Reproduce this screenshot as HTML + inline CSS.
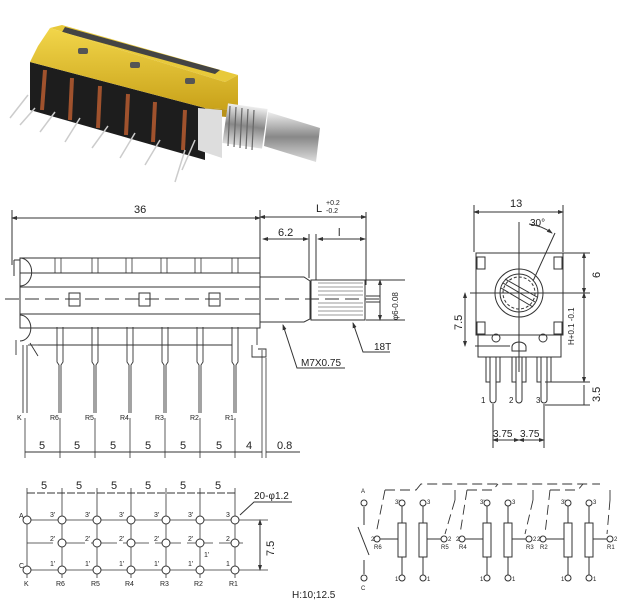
<!DOCTYPE html>
<html><head><meta charset="utf-8"><style>
html,body{margin:0;padding:0;background:#fff;}
svg{display:block;}
text{font-family:"Liberation Sans",sans-serif;fill:#222;}
</style></head><body>
<svg width="620" height="600" viewBox="0 0 620 600" xmlns="http://www.w3.org/2000/svg">
<defs>
<marker id="a" markerWidth="6" markerHeight="6" refX="5" refY="3" orient="auto-start-reverse"><path d="M0,1 L6,3 L0,5z" fill="#333"/></marker>
<linearGradient id="y" x1="0" y1="0" x2="0" y2="1"><stop offset="0" stop-color="#f2d64a"/><stop offset="1" stop-color="#c9a21a"/></linearGradient>
<linearGradient id="s" x1="0" y1="0" x2="0" y2="1"><stop offset="0" stop-color="#eee"/><stop offset="0.5" stop-color="#888"/><stop offset="1" stop-color="#ddd"/></linearGradient>
</defs>
<!-- PHOTO -->
<g>
<polygon points="30,62 205,108 205,160 30,110" fill="#1d1d1d"/>
<polygon points="50,28 62,25 238,75 225,82" fill="#e8c93a"/>
<polygon points="65,27 220,70 215,74 62,32" fill="#444"/>
<polygon points="38,46 50,28 225,82 238,75 238,110 205,108 30,62" fill="url(#y)"/>
<polygon points="205,108 238,110 237,118 205,115" fill="#b8921a"/>
<rect x="78" y="48" width="10" height="6" rx="2" fill="#555"/>
<rect x="130" y="62" width="10" height="6" rx="2" fill="#555"/>
<rect x="185" y="78" width="10" height="6" rx="2" fill="#555"/>
<polygon points="198,108 222,110 222,158 198,150" fill="#ddd"/>
<rect x="225" y="106" width="40" height="40" fill="url(#s)" transform="rotate(8 245 126)"/>
<g stroke="#666" stroke-width="1.2">
<line x1="230" y1="106" x2="228" y2="146"/><line x1="236" y1="107" x2="234" y2="147"/><line x1="242" y1="108" x2="240" y2="148"/><line x1="248" y1="109" x2="246" y2="149"/><line x1="254" y1="110" x2="252" y2="150"/>
</g>
<polygon points="268,112 320,128 316,162 264,146" fill="url(#s)"/>
<g stroke="#a0522d" stroke-width="4" fill="none">
<path d="M45,70 L42,110"/><path d="M72,78 L70,120"/><path d="M100,86 L98,128"/><path d="M128,94 L126,135"/><path d="M155,102 L153,142"/><path d="M185,110 L183,150"/>
</g>
<g stroke="#ccc" stroke-width="1.5">
<line x1="28" y1="95" x2="10" y2="118"/><line x1="35" y1="108" x2="20" y2="125"/><line x1="55" y1="112" x2="40" y2="132"/><line x1="80" y1="118" x2="65" y2="142"/><line x1="108" y1="126" x2="92" y2="148"/><line x1="135" y1="133" x2="120" y2="158"/><line x1="160" y1="140" x2="145" y2="165"/><line x1="185" y1="150" x2="175" y2="182"/><line x1="195" y1="140" x2="182" y2="170"/>
</g>
</g>

<!-- SIDE VIEW -->
<g stroke="#333" stroke-width="1" fill="none">
<line x1="12" y1="210" x2="12" y2="265"/><line x1="260" y1="210" x2="260" y2="262"/><line x1="366" y1="212" x2="366" y2="285"/>
<line x1="12" y1="218" x2="260" y2="218" marker-start="url(#a)" marker-end="url(#a)"/>
<line x1="260" y1="217" x2="366" y2="217" marker-start="url(#a)" marker-end="url(#a)"/>
<line x1="263" y1="239" x2="308" y2="239" marker-start="url(#a)" marker-end="url(#a)"/>
<line x1="318" y1="239" x2="365" y2="239" marker-start="url(#a)" marker-end="url(#a)"/>
<line x1="309" y1="234" x2="309" y2="278"/><line x1="316" y1="234" x2="316" y2="280"/>
<rect x="20" y="258" width="240" height="70"/>
<line x1="20" y1="273" x2="260" y2="273"/><line x1="20" y1="287" x2="260" y2="287"/><line x1="20" y1="314" x2="260" y2="314"/>
<path d="M20,258 a10,12 0 0 1 0,28"/><path d="M20,315 a10,12 0 0 1 0,26" />
<line x1="14" y1="260" x2="20" y2="260"/><line x1="14" y1="260" x2="14" y2="276"/>
<g stroke-width="0.8"><line x1="55" y1="258" x2="55" y2="273"/><line x1="61" y1="258" x2="61" y2="273"/><line x1="92" y1="258" x2="92" y2="273"/><line x1="98" y1="258" x2="98" y2="273"/><line x1="126" y1="258" x2="126" y2="273"/><line x1="132" y1="258" x2="132" y2="273"/><line x1="161" y1="258" x2="161" y2="273"/><line x1="167" y1="258" x2="167" y2="273"/><line x1="195" y1="258" x2="195" y2="273"/><line x1="201" y1="258" x2="201" y2="273"/><line x1="232" y1="258" x2="232" y2="273"/><line x1="238" y1="258" x2="238" y2="273"/></g>
<line x1="5" y1="299" x2="385" y2="299" stroke-dasharray="14,6"/>
<rect x="69" y="293" width="11" height="13"/><rect x="139" y="293" width="11" height="13"/><rect x="209" y="293" width="11" height="13"/>
<path d="M260,277 L304,277 L310,281 L310,319 L304,322 L260,322"/>
<rect x="311" y="280" width="54" height="40"/>
<g stroke-width="0.6"><line x1="318" y1="283" x2="363" y2="283"/><line x1="318" y1="287" x2="363" y2="287"/><line x1="318" y1="291" x2="363" y2="291"/><line x1="318" y1="295" x2="363" y2="295"/><line x1="318" y1="303" x2="363" y2="303"/><line x1="318" y1="307" x2="363" y2="307"/><line x1="318" y1="311" x2="363" y2="311"/><line x1="318" y1="315" x2="363" y2="315"/></g>
<line x1="366" y1="280" x2="405" y2="280"/><line x1="366" y1="320" x2="405" y2="320"/>
<line x1="380" y1="280" x2="380" y2="320" marker-start="url(#a)" marker-end="url(#a)"/>
<line x1="366" y1="296" x2="380" y2="296"/><line x1="366" y1="302" x2="380" y2="302"/>
<path d="M283,325 L297,368 L345,368" marker-start="url(#a)"/>
<path d="M353,323 L363,352 L390,352" marker-start="url(#a)"/>
<!-- pins -->
<g stroke-width="0.9">
<path d="M57,327 V362 L59,365 V413 M63,327 V362 L61,365 V413"/>
<path d="M92,327 V362 L94,365 V413 M98,327 V362 L96,365 V413"/>
<path d="M127,327 V362 L129,365 V413 M133,327 V362 L131,365 V413"/>
<path d="M162,327 V362 L164,365 V413 M168,327 V362 L166,365 V413"/>
<path d="M197,327 V362 L199,365 V413 M203,327 V362 L201,365 V413"/>
<path d="M232,327 V362 L234,365 V413 M238,327 V362 L236,365 V413"/>
<path d="M23,345 V413 M27,345 V413"/>
<line x1="16" y1="340" x2="16" y2="355"/><line x1="28" y1="345" x2="42" y2="345"/>
<line x1="30" y1="343" x2="38" y2="356"/>
<line x1="38" y1="345" x2="232" y2="345"/>
<path d="M252,345 V357 H266 V349 H258"/><line x1="257" y1="328" x2="257" y2="345"/>
</g>
<g stroke-width="0.8">
<line x1="25" y1="418" x2="25" y2="458"/><line x1="60" y1="418" x2="60" y2="458"/><line x1="95" y1="418" x2="95" y2="458"/><line x1="130" y1="418" x2="130" y2="458"/><line x1="165" y1="418" x2="165" y2="458"/><line x1="200" y1="418" x2="200" y2="458"/><line x1="235" y1="418" x2="235" y2="458"/><line x1="262" y1="350" x2="262" y2="458"/><line x1="266" y1="358" x2="266" y2="458"/>
</g>
<line x1="25" y1="452" x2="262" y2="452"/>
<line x1="266" y1="452" x2="300" y2="452"/>
</g>
<g font-size="11">
<text x="134" y="213">36</text>
<text x="316" y="212">L</text><text x="326" y="205" font-size="7">+0.2</text><text x="326" y="213" font-size="7">-0.2</text>
<text x="278" y="236">6.2</text><text x="338" y="236">l</text>
<text x="301" y="366" font-size="10">M7X0.75</text>
<text x="374" y="350" font-size="10">18T</text>
<text transform="translate(398,320) rotate(-90)" font-size="8">φ6-0.08</text>
<text x="39" y="449">5</text><text x="74" y="449">5</text><text x="110" y="449">5</text><text x="145" y="449">5</text><text x="180" y="449">5</text><text x="216" y="449">5</text><text x="246" y="449">4</text><text x="277" y="449">0.8</text>
</g>
<g font-size="7"><text x="17" y="420">K</text><text x="50" y="420">R6</text><text x="85" y="420">R5</text><text x="120" y="420">R4</text><text x="155" y="420">R3</text><text x="190" y="420">R2</text><text x="225" y="420">R1</text></g>

<!-- FRONT VIEW -->
<g stroke="#333" stroke-width="1" fill="none">
<line x1="474" y1="205" x2="474" y2="252"/><line x1="563" y1="205" x2="563" y2="252"/>
<line x1="474" y1="212" x2="563" y2="212" marker-start="url(#a)" marker-end="url(#a)"/>
<rect x="476" y="253" width="87" height="82"/>
<path d="M478,335 V357 H561 V335"/>
<rect x="477" y="257" width="8" height="12"/><rect x="554" y="257" width="8" height="12"/>
<rect x="477" y="322" width="8" height="12"/><rect x="554" y="322" width="8" height="12"/>
<circle cx="519" cy="293" r="24"/><circle cx="519" cy="293" r="19"/><circle cx="519" cy="293" r="16" stroke-dasharray="3,2"/>
<line x1="503" y1="283" x2="535" y2="302"/><line x1="501" y1="288" x2="533" y2="307"/><line x1="505" y1="279" x2="537" y2="297"/>
<line x1="519" y1="222" x2="519" y2="372"/>
<line x1="533" y1="281" x2="555" y2="233"/>
<path d="M529,224 A50,50 0 0 1 552,233" marker-end="url(#a)"/>
<circle cx="496" cy="338" r="4"/><circle cx="543" cy="338" r="4"/><path d="M512,347 a7,5 0 0 1 14,0 v4 h-14z"/>
<line x1="470" y1="293" x2="590" y2="293"/><line x1="563" y1="253" x2="590" y2="253"/><line x1="475" y1="346" x2="510" y2="346"/>
<line x1="584" y1="253" x2="584" y2="293" marker-start="url(#a)" marker-end="url(#a)"/>
<line x1="584" y1="293" x2="584" y2="382" marker-start="url(#a)" marker-end="url(#a)"/>
<line x1="465" y1="293" x2="465" y2="346" marker-start="url(#a)" marker-end="url(#a)"/>
<line x1="545" y1="382" x2="590" y2="382"/><line x1="545" y1="405" x2="590" y2="405"/>
<line x1="584" y1="385" x2="584" y2="405"/>
<path d="M490,357 V400 a3,3 0 0 0 6,0 V357"/><path d="M486,357 V382 H490 M500,357 V382 H496"/>
<path d="M516,357 V400 a3,3 0 0 0 6,0 V357"/><path d="M512,357 V382 H516 M526,357 V382 H522"/>
<path d="M541,357 V400 a3,3 0 0 0 6,0 V357"/><path d="M537,357 V382 H541 M551,357 V382 H547"/>
<line x1="493" y1="404" x2="493" y2="448"/><line x1="544" y1="404" x2="544" y2="448"/>
<line x1="493" y1="440" x2="519" y2="440" marker-start="url(#a)" marker-end="url(#a)"/>
<line x1="519" y1="440" x2="544" y2="440" marker-start="url(#a)" marker-end="url(#a)"/>
</g>
<g font-size="11">
<text x="510" y="207">13</text><text x="530" y="226" font-size="10">30°</text>
<text transform="translate(600,278) rotate(-90)">6</text>
<text transform="translate(462,330) rotate(-90)">7.5</text>
<text transform="translate(600,402) rotate(-90)">3.5</text>
<text transform="translate(574,345) rotate(-90)" font-size="8">H+0.1 -0.1</text>
<text x="493" y="437" font-size="10">3.75</text><text x="520" y="437" font-size="10">3.75</text>
<text x="481" y="403" font-size="8">1</text><text x="509" y="403" font-size="8">2</text><text x="536" y="403" font-size="8">3</text>
</g>

<!-- GRID -->
<g stroke="#333" stroke-width="1" fill="none">
<g stroke-width="0.8">
<line x1="27" y1="488" x2="27" y2="578"/><line x1="62" y1="488" x2="62" y2="578"/><line x1="97" y1="488" x2="97" y2="578"/><line x1="131" y1="488" x2="131" y2="578"/><line x1="166" y1="488" x2="166" y2="578"/><line x1="200" y1="488" x2="200" y2="578"/><line x1="235" y1="488" x2="235" y2="578"/>
<line x1="27" y1="520" x2="268" y2="520"/><line x1="27" y1="570" x2="268" y2="570"/>
<line x1="27" y1="543" x2="243" y2="543" stroke-dasharray="26,6"/>
</g>
<line x1="27" y1="493" x2="235" y2="493" stroke-dasharray="8,2"/>
<line x1="260" y1="520" x2="260" y2="570" marker-start="url(#a)" marker-end="url(#a)"/>
<path d="M240,515 L254,502 L292,502"/>
</g>
<g stroke="#333" stroke-width="1" fill="#fff">
<g id="cr"><circle cx="27" cy="520" r="4"/><circle cx="62" cy="520" r="4"/><circle cx="97" cy="520" r="4"/><circle cx="131" cy="520" r="4"/><circle cx="166" cy="520" r="4"/><circle cx="200" cy="520" r="4"/><circle cx="235" cy="520" r="4"/></g>
<circle cx="62" cy="543" r="4"/><circle cx="97" cy="543" r="4"/><circle cx="131" cy="543" r="4"/><circle cx="166" cy="543" r="4"/><circle cx="200" cy="543" r="4"/><circle cx="235" cy="543" r="4"/>
<circle cx="27" cy="570" r="4"/><circle cx="62" cy="570" r="4"/><circle cx="97" cy="570" r="4"/><circle cx="131" cy="570" r="4"/><circle cx="166" cy="570" r="4"/><circle cx="200" cy="570" r="4"/><circle cx="235" cy="570" r="4"/>
</g>
<g font-size="11"><text x="41" y="489">5</text><text x="76" y="489">5</text><text x="111" y="489">5</text><text x="145" y="489">5</text><text x="180" y="489">5</text><text x="215" y="489">5</text>
<text x="254" y="499" font-size="10">20-φ1.2</text>
<text transform="translate(274,556) rotate(-90)">7.5</text>
<text x="292" y="598" font-size="10">H:10;12.5</text></g>
<g font-size="7"><text x="19" y="518">A</text><text x="19" y="568">C</text><text x="50" y="517">3'</text><text x="85" y="517">3'</text><text x="119" y="517">3'</text><text x="154" y="517">3'</text><text x="188" y="517">3'</text><text x="226" y="517">3</text>
<text x="50" y="541">2'</text><text x="85" y="541">2'</text><text x="119" y="541">2'</text><text x="154" y="541">2'</text><text x="188" y="541">2'</text><text x="226" y="541">2</text>
<text x="50" y="566">1'</text><text x="85" y="566">1'</text><text x="119" y="566">1'</text><text x="154" y="566">1'</text><text x="188" y="566">1'</text><text x="226" y="566">1</text><text x="204" y="557">1'</text>
<text x="24" y="586">K</text><text x="56" y="586">R6</text><text x="91" y="586">R5</text><text x="125" y="586">R4</text><text x="160" y="586">R3</text><text x="194" y="586">R2</text><text x="229" y="586">R1</text></g>

<!-- SCHEMATIC -->
<g stroke="#333" stroke-width="1" fill="none">
<line x1="364" y1="507" x2="364" y2="525"/><line x1="358" y1="527" x2="369" y2="555"/><line x1="364" y1="560" x2="364" y2="574"/>
<circle cx="364" cy="503" r="3"/><circle cx="364" cy="578" r="3"/>
<g stroke-dasharray="10,5" stroke-width="0.9">
<path d="M385,490 H416 L421,484 H600"/><path d="M467,490 H493 L498,484"/><path d="M550,490 H578 L583,484"/><path d="M455,490 V500"/><path d="M533,490 V500"/><path d="M610,490 V500"/>
<path d="M385,490 L376,534"/><path d="M467,490 L460,534"/><path d="M550,490 L545,534"/><path d="M455,500 L445,534"/><path d="M533,500 L525,534"/><path d="M610,500 L607,534"/>
</g>
<g id="g1">
<circle cx="377" cy="539" r="3"/><line x1="380" y1="539" x2="398" y2="539"/>
<circle cx="402" cy="503" r="3"/><line x1="402" y1="506" x2="402" y2="523"/><rect x="398" y="523" width="8" height="34"/><line x1="402" y1="557" x2="402" y2="575"/><circle cx="402" cy="578" r="3"/>
<circle cx="423" cy="503" r="3"/><line x1="423" y1="506" x2="423" y2="523"/><rect x="419" y="523" width="8" height="34"/><line x1="423" y1="557" x2="423" y2="575"/><circle cx="423" cy="578" r="3"/>
<line x1="427" y1="539" x2="441" y2="539"/><circle cx="444" cy="539" r="3"/>
</g>
<use href="#g1" x="85"/>
<use href="#g1" x="166"/>
</g>
<g font-size="6"><text x="361" y="493">A</text><text x="361" y="590">C</text>
<text x="395" y="504">3'</text><text x="427" y="504">3</text><text x="371" y="541">2'</text><text x="448" y="541">2</text><text x="374" y="549">R6</text><text x="441" y="549">R5</text>
<text x="480" y="504">3'</text><text x="512" y="504">3</text><text x="456" y="541">2'</text><text x="533" y="541">2</text><text x="459" y="549">R4</text><text x="526" y="549">R3</text>
<text x="561" y="504">3'</text><text x="593" y="504">3</text><text x="537" y="541">2'</text><text x="614" y="541">2</text><text x="540" y="549">R2</text><text x="607" y="549">R1</text>
<text x="395" y="581">1'</text><text x="427" y="581">1</text><text x="480" y="581">1'</text><text x="512" y="581">1</text><text x="561" y="581">1'</text><text x="593" y="581">1</text></g>
</svg>
</body></html>
